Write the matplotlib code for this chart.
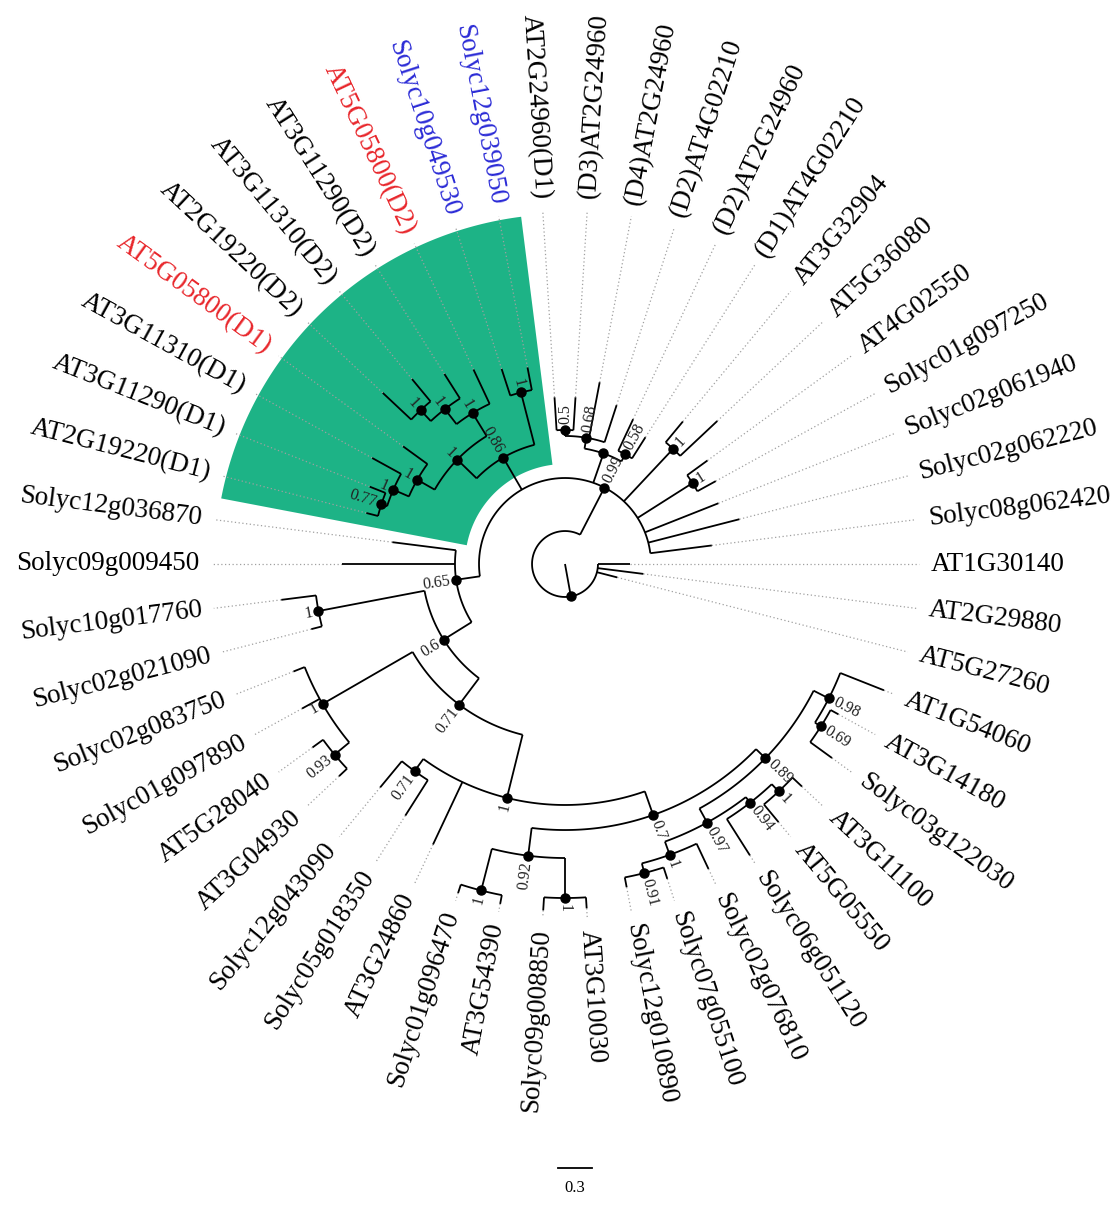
import numpy as np
import matplotlib.pyplot as plt

# Phylogeny (Newick, support values as internal labels, branch lengths in substitutions/site)
newick = (
    "(("
    "Solyc08g062420:0.547,Solyc02g062220:0.830,Solyc02g061940:0.697,"
    "(Solyc01g097250:0.185,AT4G02550:0.221)1:0.574,"
    "(AT5G36080:0.450,AT3G32904:0.238)1:0.635,"
    "(('(D1)AT4G02210':0.221,'(D2)AT2G24960':0.309)0.58:0.071,"
    "('(D2)AT4G02210':0.344,'(D4)AT2G24960':0.503,"
    "('(D3)AT2G24960':0.291,'AT2G24960(D1)':0.291)0.5:0.053)0.68:0.097):0.274,"
    "((Solyc12g039050:0.203,Solyc10g049530:0.247)1:0.477,"
    "(('AT5G05800(D2)':0.335,('AT3G11290(D2)':0.256,"
    "('AT3G11310(D2)':0.256,'AT2G19220(D2)':0.344)1:0.132)1:0.168)1:0.238,"
    "('AT5G05800(D1)':0.265,('AT3G11310(D1)':0.291,"
    "('AT3G11290(D1)':0.150,'AT2G19220(D1)':0.106)0.77:0.053)1:0.150)1:0.177)1:0.238)0.86:0.327,"
    "(Solyc12g036870:0.565,Solyc09g009450:0.997,"
    "((Solyc10g017760:0.309,Solyc02g021090:0.097)1:0.953,"
    "((Solyc02g083750:0.106,Solyc01g097890:0.177,"
    "(AT5G28040:0.115,AT3G04930:0.097)0.93:0.168)1:0.918,"
    "((Solyc12g043090:0.300,Solyc05g018350:0.371)0.71:0.132,AT3G24860:0.609,"
    "(((Solyc01g096470:0.079,AT3G54390:0.079)1:0.380,"
    "(Solyc09g008850:0.115,AT3G10030:0.097)1:0.353)0.92:0.247,"
    "((((Solyc12g010890:0.088,Solyc07g055100:0.106)0.91:0.088,Solyc02g076810:0.247)1:0.124,"
    "(Solyc06g051120:0.380,(AT5G05550:0.203,AT3G11100:0.115)1:0.088)0.94:0.062)0.97:0.141,"
    "((Solyc03g122030:0.238,AT3G14180:0.079)0.69:0.062,AT1G54060:0.415)0.98:0.150)0.89:0.115"
    ")0.7:0.221)1:0.574)0.71:0.291)0.6:0.291)0.65:0.212"
    ")0.99:0.468,AT5G27260:0.185,AT2G29880:0.406,AT1G30140:0.282):0.291;"
)

# label colours for highlighted genes
red_genes = ['AT5G05800(D2)', 'AT5G05800(D1)']
blue_genes = ['Solyc12g039050', 'Solyc10g049530']

# clade shaded in green (first and last leaf)
clade_range = ('Solyc12g039050', 'AT2G19220(D1)')

scale_value = 0.3


def parse_newick(s):
    pos = 0

    def node():
        nonlocal pos
        children = []
        if s[pos] == '(':
            pos += 1
            children.append(node())
            while s[pos] == ',':
                pos += 1
                children.append(node())
            pos += 1
        if s[pos] == "'":
            end = s.index("'", pos + 1)
            name = s[pos + 1:end]
            pos = end + 1
        else:
            start = pos
            while s[pos] not in ':,);':
                pos += 1
            name = s[start:pos]
        length = 0.0
        if s[pos] == ':':
            pos += 1
            start = pos
            while s[pos] not in ',);':
                pos += 1
            length = float(s[start:pos])
        return {'name': name, 'length': length, 'children': children}

    return node()


root = parse_newick(newick)

# layout: leaves evenly spread around the circle, node angle = mean of children
leaves = []


def count_leaves(n):
    if not n['children']:
        return 1
    return sum(count_leaves(c) for c in n['children'])


n_leaves = count_leaves(root)
step = 360.0 / n_leaves
px_per_unit = 113.3
cx, cy = 565, 564


def layout(n, depth):
    n['r'] = (depth + n['length']) * px_per_unit
    if not n['children']:
        leaves.append(n)
        n['angle'] = step * len(leaves)
    else:
        for c in n['children']:
            layout(c, depth + n['length'])
        n['angle'] = np.mean([c['angle'] for c in n['children']])


layout(root, 0.0)


def xy(r, a):
    t = np.radians(a)
    return cx + r * np.cos(t), cy - r * np.sin(t)


fig = plt.figure(figsize=(11.18, 12.16), dpi=100)
ax = fig.add_axes([0, 0, 1, 1])
ax.set_xlim(0, 1118)
ax.set_ylim(1216, 0)
ax.axis('off')

# green highlight behind the clade
leaf_angle = {lf['name']: lf['angle'] for lf in leaves}
a0 = leaf_angle[clade_range[0]] - step / 2
a1 = leaf_angle[clade_range[1]] + step / 2
ts = np.linspace(a0, a1, 100)
outer = [xy(350, t) for t in ts]
inner = [xy(100, t) for t in ts[::-1]]
poly = np.array(outer + inner)
ax.fill(poly[:, 0], poly[:, 1], color='#1db386', lw=0, zorder=0)

r_leader = 354
r_label = 366
line_kw = dict(color='black', lw=1.3, solid_capstyle='butt', zorder=2)


def draw(n, parent_r):
    a = n['angle']
    x0, y0 = xy(parent_r, a)
    x1, y1 = xy(n['r'], a)
    ax.plot([x0, x1], [y0, y1], **line_kw)
    right = not (90 < a % 360 < 270)
    rot = a % 360 if right else a % 360 - 180
    if not n['children']:
        xl, yl = xy(r_leader, a)
        ax.plot([x1, xl], [y1, yl], color='#a0a0a0', lw=0.9, ls=(0, (1, 2)), zorder=1)
        col = 'black'
        if n['name'] in red_genes:
            col = '#e8262b'
        elif n['name'] in blue_genes:
            col = '#2b2bd6'
        xt, yt = xy(r_label, a)
        ax.text(xt, yt, n['name'], fontsize=19.5, family='Liberation Serif', color=col,
                rotation=rot, rotation_mode='anchor', va='center',
                ha='left' if right else 'right')
        return
    angs = [c['angle'] for c in n['children']]
    ts = np.linspace(min(angs), max(angs), 80)
    pts = np.array([xy(n['r'], t) for t in ts])
    ax.plot(pts[:, 0], pts[:, 1], **line_kw)
    ax.plot(x1, y1, 'o', color='black', ms=6.5, zorder=3)
    if n['name']:
        xs, ys = xy(n['r'] + 6, a)
        ax.text(xs, ys, n['name'], fontsize=11.5, family='Liberation Serif', color='#222222',
                rotation=rot, rotation_mode='anchor', va='center',
                ha='left' if right else 'right', zorder=4)
    for c in n['children']:
        draw(c, n['r'])


draw(root, 0.0)

# scale bar
bar = scale_value * px_per_unit
ax.plot([558, 558 + bar], [1168, 1168], color='black', lw=1.3)
ax.text(558 + bar / 2, 1180, str(scale_value), fontsize=12, family='Liberation Serif',
        ha='center', va='top')

fig.savefig('out.png', dpi=100)
